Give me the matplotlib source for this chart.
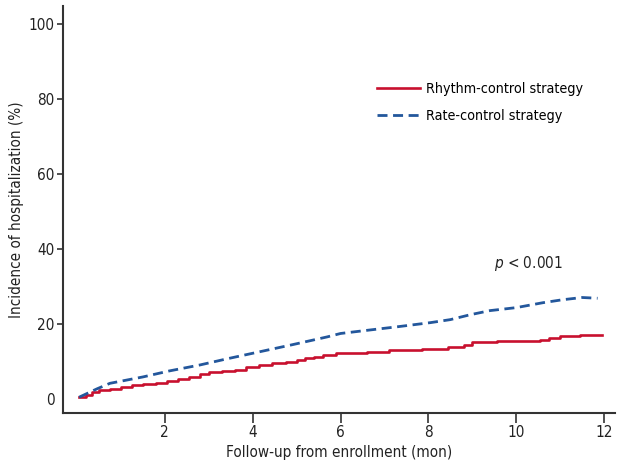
import matplotlib
matplotlib.use('Agg')
import matplotlib.pyplot as plt

plt.rcParams['font.family'] = ['DejaVu Sans']
plt.rcParams['font.stretch'] = 'condensed'

# cumulative incidence (months, %)
rhythm_t = [0.05, 0.2, 0.35, 0.5, 0.75, 1.0, 1.25, 1.5, 1.8, 2.05, 2.3, 2.55, 2.8, 3.0,
            3.3, 3.6, 3.85, 4.15, 4.45, 4.75, 5.0, 5.2, 5.4, 5.6, 5.9, 6.6, 7.1,
            7.85, 8.45, 8.8, 9.0, 9.55, 10.55, 10.75, 11.0, 11.45, 11.95]
rhythm_y = [0.5, 1.2, 1.8, 2.4, 2.8, 3.3, 3.7, 4.0, 4.4, 4.8, 5.3, 6.0, 6.6, 7.1,
            7.4, 7.8, 8.5, 9.1, 9.5, 9.9, 10.4, 10.9, 11.3, 11.8, 12.3, 12.6, 13.0,
            13.4, 14.0, 14.5, 15.1, 15.5, 15.8, 16.3, 16.7, 17.2, 17.2]

rate_t = [0.05, 0.45, 0.75, 1.5, 2.1, 2.8, 3.4, 4.15, 4.9, 5.7, 6.0, 6.5, 7.3,
          8.05, 8.5, 8.95, 9.4, 10.0, 10.6, 11.05, 11.5, 11.85]
rate_y = [0.5, 2.7, 4.2, 5.9, 7.5, 9.1, 10.7, 12.6, 14.5, 16.6, 17.5, 18.2, 19.3,
          20.4, 21.2, 22.5, 23.6, 24.4, 25.7, 26.5, 27.1, 26.9]

xticks = [2, 4, 6, 8, 10, 12]
yticks = [0, 20, 40, 60, 80, 100]

fig = plt.figure(figsize=(6.17, 4.65), dpi=100)
ax = fig.add_axes([0.102, 0.112, 0.895, 0.876])

ax.plot(rhythm_t, rhythm_y, color='#c8102e', lw=1.9, drawstyle='steps-post',
        label='Rhythm-control strategy')
ax.plot(rate_t, rate_y, color='#23579c', lw=2, ls=(0, (3.6, 2.0)),
        label='Rate-control strategy')

ax.set_xlim(-0.32, 12.25)
ax.set_ylim(-3.7, 105)
ax.set_xticks(xticks)
ax.set_yticks(yticks)
ax.tick_params(axis='x', length=7, width=1.2, colors='#333333', labelsize=11, pad=2)
ax.tick_params(axis='y', length=4, width=1.2, colors='#333333', labelsize=11, pad=2)
ax.yaxis.get_major_ticks()[0].tick1line.set_visible(False)
for t in ax.get_xticklabels() + ax.get_yticklabels():
    t.set_color('#222222')

for s in ['top', 'right']:
    ax.spines[s].set_visible(False)
for s in ['left', 'bottom']:
    ax.spines[s].set_linewidth(1.5)
    ax.spines[s].set_color('#333333')

ax.set_xlabel('Follow-up from enrollment (mon)', fontsize=11, color='#222222', labelpad=3)
ax.set_ylabel('Incidence of hospitalization (%)', fontsize=11, color='#222222', labelpad=3)

ax.text(9.5, 36.2, '$p$ < 0.001', fontsize=11, color='#222222', va='center')

ax.legend(loc='upper left', bbox_to_anchor=(0.559, 0.826), frameon=False, fontsize=10.3,
          handlelength=3.0, handletextpad=0.4, labelspacing=0.9, borderaxespad=0)

fig.savefig('out.png', dpi=100)
